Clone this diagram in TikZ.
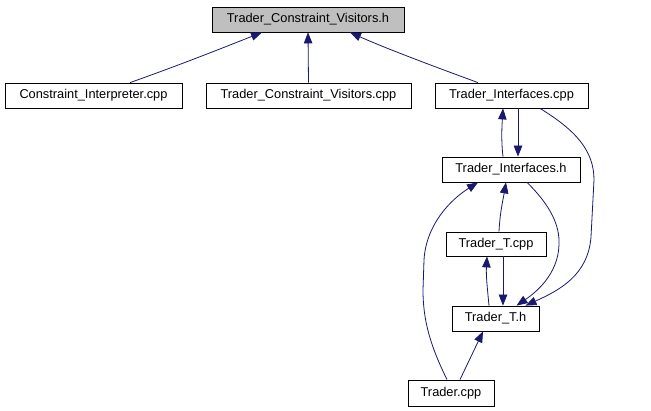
\documentclass[tikz,border=0pt]{standalone}
\usepackage{fontspec}
\setmainfont{Liberation Sans}
\usetikzlibrary{arrows.meta}
\definecolor{edgeblue}{RGB}{25,25,112}
\definecolor{topgray}{RGB}{191,191,191}
\begin{document}
\begin{tikzpicture}[x=1pt,y=-1pt,
  filebox/.style={draw=black,fill=white,line width=0.8pt,inner sep=0pt,minimum height=25pt,
    font=\fontsize{12.8}{14}\selectfont},
  edge/.style={draw=edgeblue,line width=0.8pt,-{Triangle[length=11pt,width=8.5pt]}}]
\useasboundingbox (0,0) rectangle (651,411);
\fill[white] (0,0) rectangle (651,411);
\node[filebox,fill=topgray,minimum width=192pt] (top) at (308,19.5) {Trader\_Constraint\_Visitors.h};
\node[filebox,minimum width=177pt] (ci) at (93.5,95.5) {Constraint\_Interpreter.cpp};
\node[filebox,minimum width=205pt] (tcv) at (308.5,95.5) {Trader\_Constraint\_Visitors.cpp};
\node[filebox,minimum width=153pt] (tic) at (511.5,95.5) {Trader\_Interfaces.cpp};
\node[filebox,minimum width=138pt] (tih) at (511,169.5) {Trader\_Interfaces.h};
\node[filebox,minimum width=100pt,minimum height=24pt] (ttc) at (496,244) {Trader\_T.cpp};
\node[filebox,minimum width=87pt] (tth) at (495.5,318.5) {Trader\_T.h};
\node[filebox,minimum width=86pt,minimum height=26pt] (tr) at (451,393) {Trader.cpp};
% edges
\draw[edge] ([xshift=36.5pt]ci.north) .. controls (180,65) and (230,45) .. ([xshift=-46pt]top.south);
\draw[edge] (tcv.north) -- (top.south);
\draw[edge] ([xshift=-33.5pt]tic.north) .. controls (430,65) and (385,48) .. ([xshift=42pt]top.south);
\draw[edge] ([xshift=-8pt]tih.north) .. controls (501,140) and (502,125) .. ([xshift=-8.5pt]tic.south);
\draw[edge] ([xshift=6.5pt]tic.south) -- ([xshift=7pt]tih.north);
\draw[edge] ([xshift=28.5pt]tic.south) .. controls (575,130) and (594,150) .. (594,180)
  -- (591,237) .. controls (588,275) and (560,290) .. ([xshift=30pt]tth.north);
\draw[edge] ([xshift=16pt]tih.south) .. controls (550,205) and (560,225) .. (559,245)
  .. controls (558,275) and (535,293) .. ([xshift=21pt]tth.north);
\draw[edge] ([xshift=3pt]ttc.north) .. controls (500,212) and (503,200) .. ([xshift=-5pt]tih.south);
\draw[edge] ([xshift=-6.5pt]tth.north) .. controls (487,285) and (486,275) .. ([xshift=-9pt]ttc.south);
\draw[edge] ([xshift=7pt]ttc.south) -- ([xshift=7.5pt]tth.north);
\draw[edge] ([xshift=9pt]tr.north) -- ([xshift=-12.5pt]tth.south);
\draw[edge] ([xshift=-4pt]tr.north) .. controls (430,345) and (423,320) .. (423,290)
  -- (424,260) .. controls (426,225) and (450,200) .. ([xshift=-33pt]tih.south);
\end{tikzpicture}
\end{document}
